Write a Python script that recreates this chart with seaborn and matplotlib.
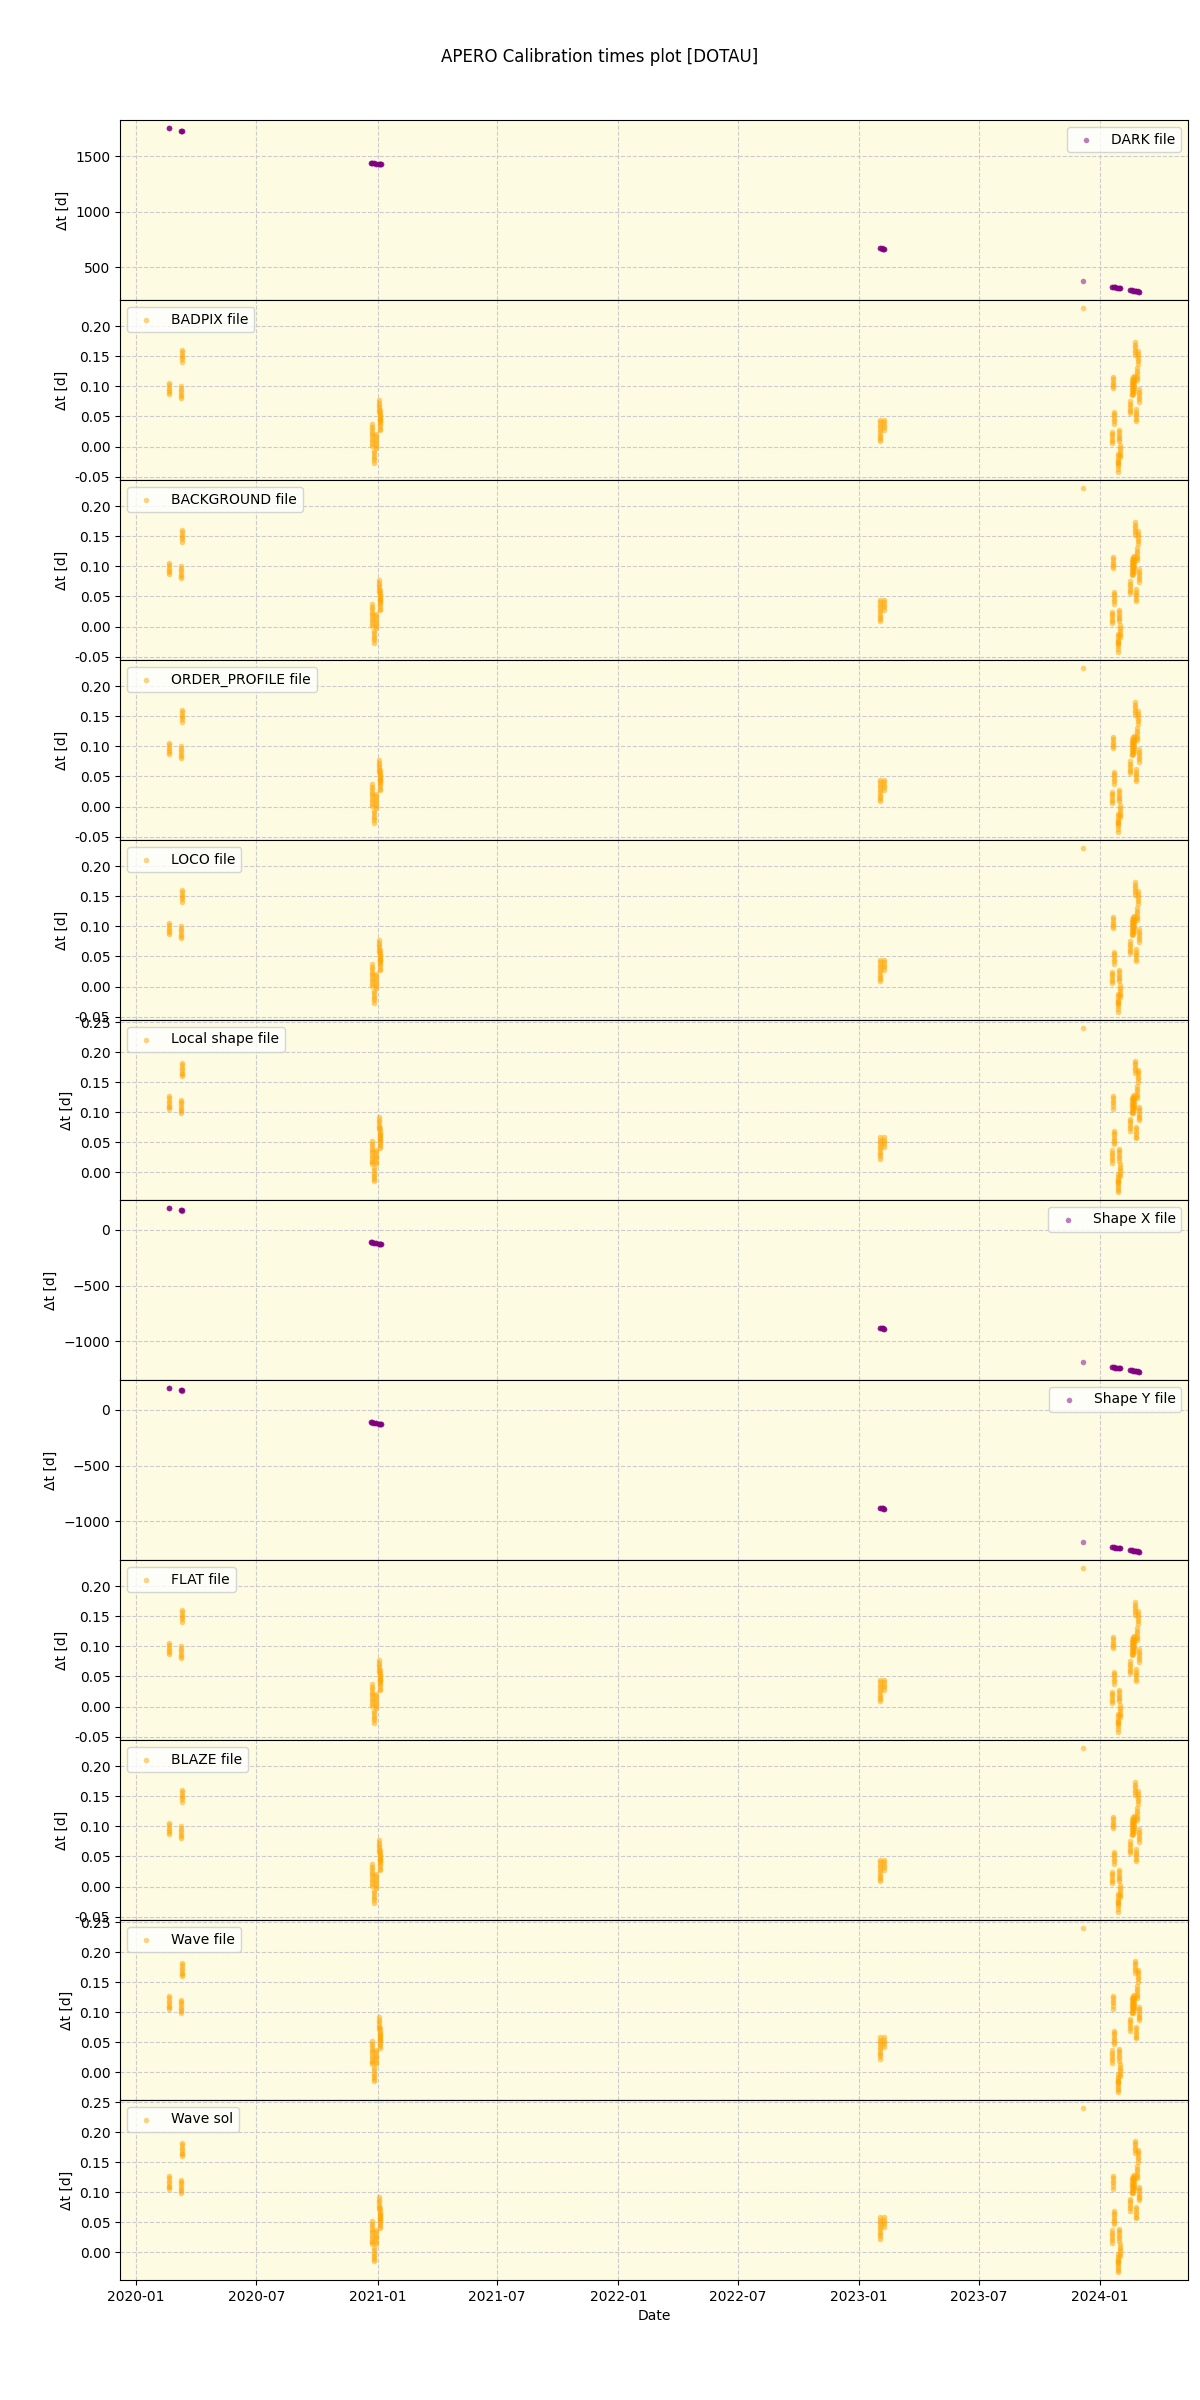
import matplotlib
matplotlib.use("Agg")
import matplotlib.pyplot as plt
import matplotlib.dates as mdates
import matplotlib.ticker as mticker
import seaborn as sns
import pandas as pd

# ---------------- data ----------------
orange_nights = [
    "2020-02-19", "2020-03-09", "2020-03-10", "2020-12-23", "2020-12-27",
    "2020-12-30", "2021-01-03", "2021-01-04", "2021-01-05", "2023-02-02",
    "2023-02-08", "2023-12-06", "2024-01-20", "2024-01-21", "2024-01-23",
    "2024-01-28", "2024-01-29", "2024-01-30", "2024-01-31", "2024-02-15",
    "2024-02-18", "2024-02-20", "2024-02-22", "2024-02-23", "2024-02-25",
    "2024-02-27", "2024-02-28", "2024-03-01",
]

dt_badpix = [
    [0.106, 0.102, 0.098, 0.094, 0.090, 0.087],
    [0.100, 0.096, 0.092, 0.088, 0.084, 0.080],
    [0.161, 0.157, 0.153, 0.149, 0.145, 0.141],
    [0.037, 0.033, 0.029, 0.025, 0.021, 0.017, 0.013, 0.009, 0.005, 0.001],
    [-0.007, -0.011, -0.015, -0.019, -0.023, -0.027],
    [0.021, 0.017, 0.013, 0.009, 0.005, 0.001, -0.002],
    [0.077, 0.073, 0.069, 0.065, 0.061, 0.057],
    [0.060, 0.056, 0.052, 0.048, 0.044, 0.040],
    [0.050, 0.046, 0.042, 0.038, 0.034, 0.030, 0.027],
    [0.044, 0.040, 0.036, 0.032, 0.028, 0.024, 0.020, 0.016, 0.012, 0.009],
    [0.044, 0.040, 0.036, 0.032, 0.028],
    [0.230],
    [0.025, 0.021, 0.017, 0.013, 0.009, 0.006],
    [0.116, 0.112, 0.108, 0.104, 0.100, 0.098],
    [0.058, 0.054, 0.050, 0.046, 0.042, 0.038],
    [-0.025, -0.029, -0.033, -0.037, -0.042],
    [-0.012, -0.016, -0.020, -0.024, -0.028],
    [0.028, 0.024, 0.020, 0.016, 0.012, 0.009],
    [0.002, -0.002, -0.006, -0.010, -0.014, -0.017],
    [0.075, 0.071, 0.067, 0.063, 0.059, 0.056],
    [0.112, 0.108, 0.104, 0.100, 0.096, 0.092, 0.088, 0.085],
    [0.115, 0.111, 0.107, 0.103, 0.099, 0.095, 0.091, 0.087],
    [0.117, 0.113, 0.109, 0.105, 0.101, 0.097, 0.093],
    [0.173, 0.169, 0.165, 0.161, 0.157, 0.153],
    [0.062, 0.058, 0.054, 0.050, 0.046, 0.042],
    [0.130, 0.126, 0.122, 0.118, 0.114, 0.110],
    [0.158, 0.154, 0.150, 0.146, 0.142, 0.137],
    [0.095, 0.091, 0.087, 0.083, 0.079, 0.074],
]

dt_localshape = [
    [0.127, 0.123, 0.119, 0.115, 0.111, 0.108, 0.105],
    [0.121, 0.117, 0.113, 0.109, 0.105, 0.102, 0.099],
    [0.182, 0.178, 0.174, 0.170, 0.166, 0.163, 0.160],
    [0.051, 0.047, 0.043, 0.039, 0.035, 0.031, 0.027, 0.023, 0.019, 0.016, 0.013],
    [0.007, 0.003, -0.001, -0.005, -0.009, -0.012, -0.015],
    [0.037, 0.033, 0.029, 0.025, 0.021, 0.017, 0.013],
    [0.091, 0.087, 0.083, 0.079, 0.075, 0.072],
    [0.073, 0.069, 0.065, 0.061, 0.057, 0.054],
    [0.062, 0.058, 0.054, 0.050, 0.046, 0.043, 0.040],
    [0.058, 0.054, 0.050, 0.046, 0.042, 0.038, 0.034, 0.030, 0.026, 0.022],
    [0.058, 0.054, 0.050, 0.046, 0.041],
    [0.240],
    [0.036, 0.032, 0.028, 0.024, 0.020, 0.015],
    [0.127, 0.123, 0.119, 0.115, 0.111, 0.106],
    [0.069, 0.065, 0.061, 0.057, 0.053, 0.050, 0.047],
    [-0.015, -0.019, -0.023, -0.027, -0.030, -0.033],
    [-0.004, -0.008, -0.012, -0.015, -0.018],
    [0.039, 0.035, 0.031, 0.027, 0.023, 0.018],
    [0.013, 0.009, 0.005, 0.001, -0.003, -0.007],
    [0.089, 0.085, 0.081, 0.077, 0.073, 0.068],
    [0.124, 0.120, 0.116, 0.112, 0.108, 0.104, 0.100, 0.098],
    [0.127, 0.123, 0.119, 0.115, 0.111, 0.107, 0.103, 0.099],
    [0.128, 0.124, 0.120, 0.116, 0.112, 0.108, 0.105],
    [0.186, 0.182, 0.178, 0.174, 0.170, 0.166],
    [0.075, 0.071, 0.067, 0.063, 0.059, 0.056],
    [0.143, 0.139, 0.135, 0.131, 0.127, 0.123],
    [0.171, 0.167, 0.163, 0.159, 0.155, 0.150],
    [0.109, 0.105, 0.101, 0.097, 0.093, 0.090, 0.087],
]

purple_nights = [
    "2020-02-19", "2020-03-09", "2020-03-10", "2020-12-22", "2020-12-24",
    "2020-12-27", "2020-12-30", "2021-01-03", "2021-01-05", "2021-01-06",
    "2023-02-02", "2023-02-04", "2023-02-06", "2023-02-08", "2023-12-06",
    "2024-01-20", "2024-01-22", "2024-01-24", "2024-01-27", "2024-01-30",
    "2024-01-31", "2024-02-15", "2024-02-18", "2024-02-20", "2024-02-23",
    "2024-02-25", "2024-02-28", "2024-03-01",
]

dt_dark = [
    [1752, 1752, 1751], [1727, 1727, 1726], [1725, 1725, 1724],
    [1440, 1440, 1439], [1438, 1438, 1437], [1436, 1436, 1435],
    [1433, 1433, 1432], [1430, 1430, 1429], [1428, 1428, 1427],
    [1427, 1427, 1426], [670, 670, 669], [668, 668, 667],
    [666, 666, 665], [664, 664, 663], [372],
    [322, 322, 321], [320, 320, 319], [318, 318, 317],
    [315, 315, 314], [312, 312, 311], [311, 311, 310],
    [293, 293, 292], [290, 290, 289], [288, 288, 287],
    [285, 285, 284], [283, 283, 282], [280, 280, 279], [278, 278, 277],
]

dt_shapexy = [
    [196, 196, 195], [177, 177, 176], [176, 176, 175],
    [-110, -110, -111], [-112, -112, -113], [-115, -115, -116],
    [-118, -118, -119], [-122, -122, -123], [-124, -124, -125],
    [-125, -125, -126], [-882, -882, -883], [-884, -884, -885],
    [-886, -886, -887], [-888, -888, -889], [-1189],
    [-1234, -1234, -1235], [-1236, -1236, -1237], [-1238, -1238, -1239],
    [-1241, -1241, -1242], [-1244, -1244, -1245], [-1245, -1245, -1246],
    [-1260, -1260, -1261], [-1263, -1263, -1264], [-1265, -1265, -1266],
    [-1268, -1268, -1269], [-1270, -1270, -1271], [-1273, -1273, -1274],
    [-1275, -1275, -1276],
]

panel_labels = ["DARK file", "BADPIX file", "BACKGROUND file", "ORDER_PROFILE file",
                "LOCO file", "Local shape file", "Shape X file", "Shape Y file",
                "FLAT file", "BLAZE file", "Wave file", "Wave sol"]

# ---------------- helpers ----------------
def to_frame(nights, values):
    rows = [(pd.Timestamp(n), v) for n, vs in zip(nights, values) for v in vs]
    return pd.DataFrame(rows, columns=["date", "dt"])

df_dark = to_frame(purple_nights, dt_dark)
df_shape = to_frame(purple_nights, dt_shapexy)
df_badpix = to_frame(orange_nights, dt_badpix)
df_local = to_frame(orange_nights, dt_localshape)

panel_data = {
    "DARK file": (df_dark, "purple", "upper right"),
    "BADPIX file": (df_badpix, "orange", "upper left"),
    "BACKGROUND file": (df_badpix, "orange", "upper left"),
    "ORDER_PROFILE file": (df_badpix, "orange", "upper left"),
    "LOCO file": (df_badpix, "orange", "upper left"),
    "Local shape file": (df_local, "orange", "upper left"),
    "Shape X file": (df_shape, "purple", "upper right"),
    "Shape Y file": (df_shape, "purple", "upper right"),
    "FLAT file": (df_badpix, "orange", "upper left"),
    "BLAZE file": (df_badpix, "orange", "upper left"),
    "Wave file": (df_local, "orange", "upper left"),
    "Wave sol": (df_local, "orange", "upper left"),
}

# ---------------- plot ----------------
fig, axes = plt.subplots(len(panel_labels), 1, figsize=(12, 24), dpi=100, sharex=True)
fig.subplots_adjust(left=0.1, right=0.99, top=0.95, bottom=0.05, hspace=0)

for ax, label in zip(axes, panel_labels):
    df, color, loc = panel_data[label]
    ax.set_facecolor("#fdfbe2")
    sns.scatterplot(data=df, x="date", y="dt", color=color, alpha=0.5, s=16,
                    linewidth=0, label=label, ax=ax)
    if color == "orange":
        ax.yaxis.set_major_locator(mticker.MultipleLocator(0.05))
        ax.yaxis.set_major_formatter(mticker.FormatStrFormatter("%.2f"))
    ax.grid(True, linestyle="--", color="0.8", linewidth=0.8)
    ax.set_axisbelow(True)
    ax.set_ylabel("\u0394t [d]")
    ax.set_xlabel("")
    ax.legend(loc=loc)

axes[-1].xaxis.set_major_locator(mdates.MonthLocator(bymonth=[1, 7]))
axes[-1].xaxis.set_major_formatter(mdates.DateFormatter("%Y-%m"))
axes[-1].set_xlabel("Date")

fig.suptitle("APERO Calibration times plot [DOTAU]")
fig.savefig("out.png", dpi=100)
